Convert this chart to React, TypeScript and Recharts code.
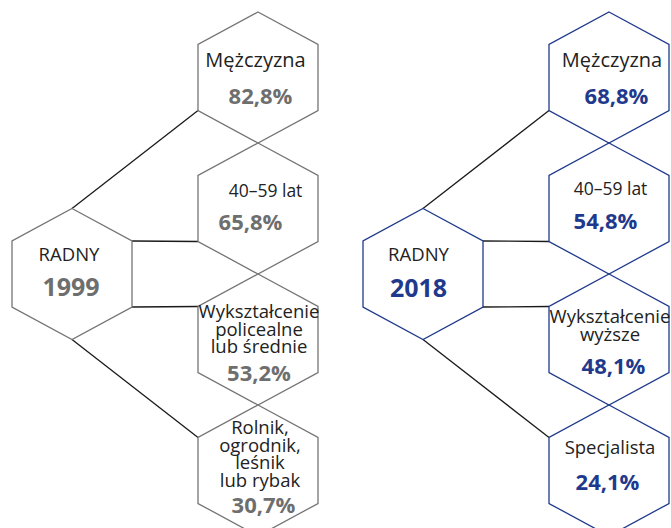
import React from 'react';
import { ScatterChart, Scatter, XAxis, YAxis } from 'recharts';

// data
const years = ['1999', '2018'];
const rootLabel = 'RADNY';
const labels1999 = ['Mężczyzna', '40–59 lat', 'Wykształcenie\npolicealne\nlub średnie', 'Rolnik,\nogrodnik,\nleśnik\nlub rybak'];
const values1999 = [82.8, 65.8, 53.2, 30.7];
const labels2018 = ['Mężczyzna', '40–59 lat', 'Wykształcenie\nwyższe', 'Specjalista'];
const values2018 = [68.8, 54.8, 48.1, 24.1];

// layout (px units, axes map 1:1)
const W = 671;
const H = 528;
const PANEL_X = [0, 351];
const ROOT_X = 72;
const NODE_X = 258;
const ROW0 = 77.5;
const PITCH = 131;
const HW = 60; // hex half width
const HS = 33; // half of vertical side
const TIP = 32.5;
const ROOT_Y = ROW0 + 1.5 * PITCH;
const LINE_H = 17.5;

const COLORS = ['#747474', '#1f3a8c'];
const PCT_COLORS = ['#6e6e6e', '#1f3a8c'];
const TEXT = '#222222';
const FONT = '"Open Sans", "Noto Sans", sans-serif';

// text offsets relative to hex centre: label baseline, pct baseline, dx's, label size
const TEXT_LAYOUT = [
  [
    { ly: -10.5, py: 26, ldx: -2.5, pdx: 2.5, ls: 20 },
    { ly: -12, py: 21.5, ldx: 7.5, pdx: -7.5, ls: 17.5 },
    { ly: -21.5, py: 41, ldx: 1, pdx: 1, ls: 18.5 },
    { ly: -36.5, py: 42, ldx: 2, pdx: 5.5, ls: 18.5 },
  ],
  [
    { ly: -11, py: 26.5, ldx: 3, pdx: 7.5, ls: 20 },
    { ly: -13.5, py: 20.5, ldx: 1.5, pdx: -3.5, ls: 17.5 },
    { ly: -16.5, py: 34.5, ldx: 1, pdx: 4.5, ls: 18.5 },
    { ly: -16.5, py: 19.5, ldx: 1, pdx: -1.5, ls: 18.5 },
  ],
];
const ROOT_LAYOUT = [
  { ly: -13, py: 22, ldx: -3, pdx: -1 },
  { ly: -13, py: 23, ldx: -4.5, pdx: -4.5 },
];

const fmtPct = (v: number) => `${v.toFixed(1).replace('.', ',')}%`;

const hexPoints = (cx: number, cy: number) =>
  [
    [cx, cy - HS - TIP],
    [cx + HW, cy - HS],
    [cx + HW, cy + HS],
    [cx, cy + HS + TIP],
    [cx - HW, cy + HS],
    [cx - HW, cy - HS],
  ]
    .map((p) => p.join(','))
    .join(' ');

const HexNode = (props: any) => {
  const { cx, cy, payload } = props;
  const { label, value, year, panel, root, idx } = payload;
  const stroke = COLORS[panel];
  const lay = root ? { ...ROOT_LAYOUT[panel], ls: 18.5 } : TEXT_LAYOUT[panel][idx];
  const lines: string[] = label.split('\n');
  return (
    <g>
      <polygon points={hexPoints(cx, cy)} fill="none" stroke={stroke} strokeWidth={1.3} />
      <text
        x={cx + lay.ldx}
        y={cy + lay.ly}
        textAnchor="middle"
        fontFamily={FONT}
        fontSize={lay.ls}
        fill={TEXT}
      >
        {lines.map((l, i) => (
          <tspan key={i} x={cx + lay.ldx} dy={i === 0 ? 0 : LINE_H}>
            {l}
          </tspan>
        ))}
      </text>
      <text
        x={cx + lay.pdx}
        y={cy + lay.py}
        textAnchor="middle"
        fontFamily={FONT}
        fontSize={root ? 25 : 22}
        fontWeight={700}
        fill={PCT_COLORS[panel]}
      >
        {root ? year : fmtPct(value)}
      </text>
    </g>
  );
};

const panels = [
  { labels: labels1999, values: values1999 },
  { labels: labels2018, values: values2018 },
];

const nodeData = panels.map((p, panel) => [
  { x: PANEL_X[panel] + ROOT_X, y: ROOT_Y, label: rootLabel, year: years[panel], panel, root: true, idx: -1 },
  ...p.labels.map((label, idx) => ({
    x: PANEL_X[panel] + NODE_X,
    y: ROW0 + idx * PITCH,
    label,
    value: p.values[idx],
    panel,
    root: false,
    idx,
  })),
]);

// connector segments from root vertex to node's left vertex
const connectors = panels.flatMap((p, panel) => {
  const rx = PANEL_X[panel] + ROOT_X;
  const nx = PANEL_X[panel] + NODE_X - HW;
  const rowY = (i: number) => ROW0 + i * PITCH;
  return [
    [{ x: rx, y: ROOT_Y - HS - TIP }, { x: nx, y: rowY(0) + HS }],
    [{ x: rx + HW, y: ROOT_Y - HS }, { x: nx, y: rowY(1) + HS }],
    [{ x: rx + HW, y: ROOT_Y + HS }, { x: nx, y: rowY(2) - HS }],
    [{ x: rx, y: ROOT_Y + HS + TIP }, { x: nx, y: rowY(3) - HS }],
  ];
});

const NoDot = () => <g />;

export default function App() {
  return (
    <div style={{ position: 'absolute', left: 0, top: 0, background: '#fff' }}>
      <ScatterChart width={W} height={H} margin={{ top: 0, right: 0, bottom: 0, left: 0 }}>
        <XAxis type="number" dataKey="x" domain={[0, W]} hide allowDataOverflow />
        <YAxis type="number" dataKey="y" domain={[0, H]} reversed hide allowDataOverflow />
        {connectors.map((seg, i) => (
          <Scatter
            key={`c${i}`}
            data={seg}
            line={{ stroke: '#1a1a1a', strokeWidth: 1.3 }}
            lineType="joint"
            shape={NoDot}
            isAnimationActive={false}
          />
        ))}
        {nodeData.map((nodes, i) => (
          <Scatter key={`n${i}`} data={nodes} shape={HexNode} isAnimationActive={false} />
        ))}
      </ScatterChart>
    </div>
  );
}
